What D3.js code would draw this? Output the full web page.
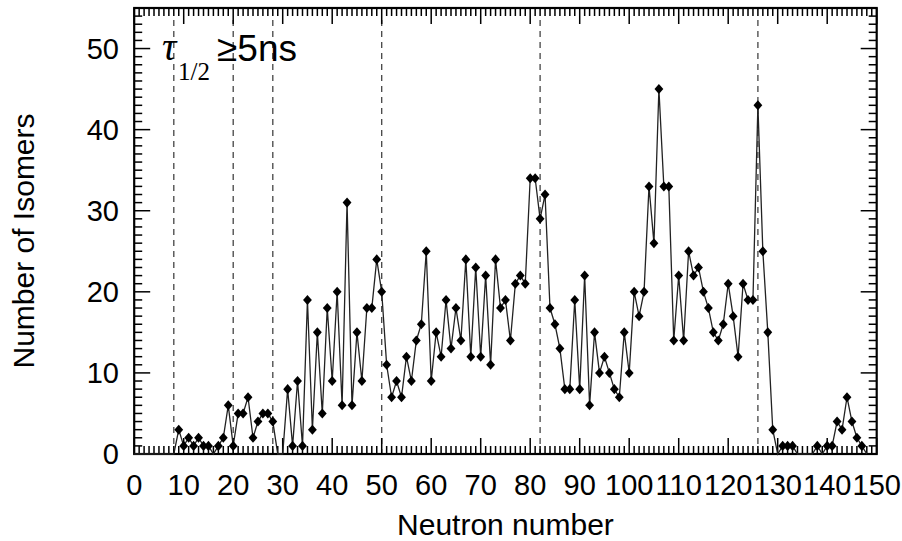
<!DOCTYPE html>
<html>
<head>
<meta charset="utf-8">
<script src="https://d3js.org/d3.v7.min.js"></script>
<style>
body {
  margin: 0;
  background: #fff;
  font-family: "Liberation Sans", Arial, sans-serif;
}
.tick-label { font-size: 29px; fill: #000; }
.axis-title { font-size: 30px; fill: #000; }
</style>
</head>
<body>
<div class="chart"></div>
<script>

// neutron number N and number of isomers (t1/2 >= 5ns) for each N
var neutrons = [
  0, 1, 2, 3, 4, 5, 6, 7, 8, 9,
  10, 11, 12, 13, 14, 15, 16, 17, 18, 19,
  20, 21, 22, 23, 24, 25, 26, 27, 28, 29,
  30, 31, 32, 33, 34, 35, 36, 37, 38, 39,
  40, 41, 42, 43, 44, 45, 46, 47, 48, 49,
  50, 51, 52, 53, 54, 55, 56, 57, 58, 59,
  60, 61, 62, 63, 64, 65, 66, 67, 68, 69,
  70, 71, 72, 73, 74, 75, 76, 77, 78, 79,
  80, 81, 82, 83, 84, 85, 86, 87, 88, 89,
  90, 91, 92, 93, 94, 95, 96, 97, 98, 99,
  100, 101, 102, 103, 104, 105, 106, 107, 108, 109,
  110, 111, 112, 113, 114, 115, 116, 117, 118, 119,
  120, 121, 122, 123, 124, 125, 126, 127, 128, 129,
  130, 131, 132, 133, 134, 135, 136, 137, 138, 139,
  140, 141, 142, 143, 144, 145, 146, 147, 148];

var isomers = [
  0, 0, 0, 0, 0, 0, 0, 0, 0, 3,
  1, 2, 1, 2, 1, 1, 0, 1, 2, 6,
  1, 5, 5, 7, 2, 4, 5, 5, 4, 0,
  0, 8, 1, 9, 1, 19, 3, 15, 5, 18,
  9, 20, 6, 31, 6, 15, 9, 18, 18, 24,
  20, 11, 7, 9, 7, 12, 9, 14, 16, 25,
  9, 15, 12, 19, 13, 18, 14, 24, 12, 23,
  12, 22, 11, 24, 18, 19, 14, 21, 22, 21,
  34, 34, 29, 32, 18, 16, 13, 8, 8, 19,
  8, 22, 6, 15, 10, 12, 10, 8, 7, 15,
  10, 20, 17, 20, 33, 26, 45, 33, 33, 14,
  22, 14, 25, 22, 23, 20, 18, 15, 14, 16,
  21, 17, 12, 21, 19, 19, 43, 25, 15, 3,
  0, 1, 1, 1, 0, 0, 0, 0, 1, 0,
  1, 1, 4, 3, 7, 4, 2, 1, 0];

// magic numbers marked with dashed lines
var magicNumbers = [8, 20, 28, 50, 82, 126];

var xTicks = [0, 10, 20, 30, 40, 50, 60, 70, 80, 90, 100, 110, 120, 130, 140, 150];
var yTicks = [0, 10, 20, 30, 40, 50];

var width = 902,
    height = 541,
    majorLen = 16,
    minorLen = 8;

var x = d3.scaleLinear().domain([0, 150]).range([134.2, 876.7]);
var y = d3.scaleLinear().domain([0, 55]).range([454, 8]);

var data = neutrons.map(function(n, i) { return {n: n, v: isomers[i]}; });

var svg = d3.select(".chart")
  .append("svg")
  .attr("width", width)
  .attr("height", height);

// dashed lines at the magic numbers
svg.selectAll(".magic")
  .data(magicNumbers)
  .enter().append("line")
  .attr("class", "magic")
  .attr("x1", function(d) { return x(d); })
  .attr("x2", function(d) { return x(d); })
  .attr("y1", y(55) + 12)
  .attr("y2", y(0))
  .attr("stroke", "#444")
  .attr("stroke-width", 1.3)
  .attr("stroke-dasharray", "6,5");

// ticks on all four sides, pointing in
var xMinor = d3.range(0, 151, 1),
    yMinor = d3.range(0, 56, 1);

function tickLen(v) { return v % 10 === 0 ? majorLen : minorLen; }

var ticks = svg.append("g")
  .attr("stroke", "#000")
  .attr("stroke-width", 1.5);

ticks.selectAll(".tb").data(xMinor).enter().append("line")
  .attr("x1", function(d) { return x(d); }).attr("x2", function(d) { return x(d); })
  .attr("y1", y(0)).attr("y2", function(d) { return y(0) - tickLen(d); });
ticks.selectAll(".tt").data(xMinor).enter().append("line")
  .attr("x1", function(d) { return x(d); }).attr("x2", function(d) { return x(d); })
  .attr("y1", y(55)).attr("y2", function(d) { return y(55) + tickLen(d); });
ticks.selectAll(".tl").data(yMinor).enter().append("line")
  .attr("y1", function(d) { return y(d); }).attr("y2", function(d) { return y(d); })
  .attr("x1", x(0)).attr("x2", function(d) { return x(0) + tickLen(d); });
ticks.selectAll(".tr").data(yMinor).enter().append("line")
  .attr("y1", function(d) { return y(d); }).attr("y2", function(d) { return y(d); })
  .attr("x1", x(150)).attr("x2", function(d) { return x(150) - tickLen(d); });

// frame
svg.append("rect")
  .attr("x", x(0))
  .attr("y", y(55))
  .attr("width", x(150) - x(0))
  .attr("height", y(0) - y(55))
  .attr("fill", "none")
  .attr("stroke", "#000")
  .attr("stroke-width", 2.2);

// data line + diamonds
var line = d3.line()
  .x(function(d) { return x(d.n); })
  .y(function(d) { return y(d.v); });

svg.append("path")
  .datum(data)
  .attr("d", line)
  .attr("fill", "none")
  .attr("stroke", "#222")
  .attr("stroke-width", 1.3);

// plain rhombus, a bit taller than wide
var rhombus = {
  draw: function(ctx, size) {
    var h = Math.sqrt(size) * 0.74, w = h * 0.88;
    ctx.moveTo(0, -h);
    ctx.lineTo(w, 0);
    ctx.lineTo(0, h);
    ctx.lineTo(-w, 0);
    ctx.closePath();
  }
};

svg.selectAll(".pt")
  .data(data.filter(function(d) { return d.v > 0; }))
  .enter().append("path")
  .attr("class", "pt")
  .attr("transform", function(d) { return "translate(" + x(d.n) + "," + y(d.v) + ")"; })
  .attr("d", d3.symbol().type(rhombus).size(46))
  .attr("fill", "#000");

// tick labels
svg.selectAll(".xl")
  .data(xTicks)
  .enter().append("text")
  .attr("class", "tick-label")
  .attr("x", function(d) { return x(d); })
  .attr("y", 495)
  .attr("text-anchor", "middle")
  .text(function(d) { return d; });

svg.selectAll(".yl")
  .data(yTicks)
  .enter().append("text")
  .attr("class", "tick-label")
  .attr("x", 119)
  .attr("y", function(d) { return y(d) + 10; })
  .attr("text-anchor", "end")
  .text(function(d) { return d; });

// axis titles
svg.append("text")
  .attr("class", "axis-title")
  .attr("x", (x(0) + x(150)) / 2)
  .attr("y", 535)
  .attr("text-anchor", "middle")
  .text("Neutron number");

svg.append("text")
  .attr("class", "axis-title")
  .attr("transform", "translate(34,241) rotate(-90)")
  .attr("text-anchor", "middle")
  .text("Number of Isomers");

// half-life note
var note = svg.append("text").attr("x", 162).attr("y", 60);
note.append("tspan")
  .style("font-family", "'Liberation Serif', 'Times New Roman', serif")
  .style("font-style", "italic")
  .style("font-size", "40px")
  .text("τ");
note.append("tspan")
  .attr("x", 178).attr("y", 80)
  .style("font-family", "'Liberation Serif', 'Times New Roman', serif")
  .style("font-size", "25px")
  .text("1/2");
note.append("tspan")
  .attr("x", 217).attr("y", 61)
  .style("font-size", "37px")
  .text("≥5ns");

</script>
</body>
</html>
